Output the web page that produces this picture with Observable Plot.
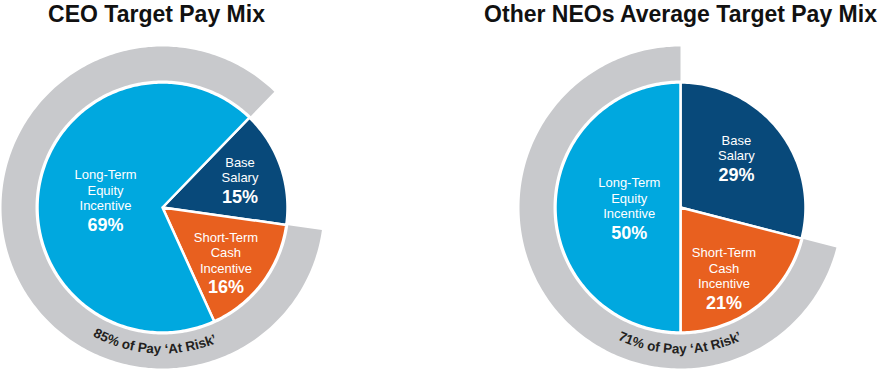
<!DOCTYPE html>
<html>
<head>
<meta charset="utf-8">
<script src="https://cdn.jsdelivr.net/npm/d3@7"></script>
<script src="https://cdn.jsdelivr.net/npm/@observablehq/plot@0.6"></script>
<style>
  html, body { margin: 0; padding: 0; background: #ffffff; }
  #chart { width: 884px; height: 370px; }
</style>
</head>
<body>
<div id="chart"></div>
<script>
// ---- data ----
const categories = ["Base Salary", "Short-Term Cash Incentive", "Long-Term Equity Incentive"];
const categoryLines = [["Base", "Salary"], ["Short-Term", "Cash", "Incentive"], ["Long-Term", "Equity", "Incentive"]];
const ceoValues = [15, 16, 69];
const neoValues = [29, 21, 50];
const titles = ["CEO Target Pay Mix", "Other NEOs Average Target Pay Mix"];
const atRiskLabels = ["85% of Pay \u2018At Risk\u2019", "71% of Pay \u2018At Risk\u2019"];
const atRiskCategories = ["Short-Term Cash Incentive", "Long-Term Equity Incentive"];

// ---- style / layout ----
const W = 884, H = 370;
const colors = ["#08497a", "#e8601f", "#00a8df"];
const ringColor = "#c8c9cc";
const R = 125, ringIn = 127, ringOut = 161, textR = 146.5;
const font = "'Liberation Sans', Arial, Helvetica, sans-serif";
const charts = [
  {title: titles[0], values: ceoValues, riskLabel: atRiskLabels[0], cx: 162, cy: 207, start: 44, titleX: 156,
   labelPos: [{r: 0.66, da: -1}, {r: 0.67, da: 4}, {r: 0.46, da: -2}], textAngle: 183},
  {title: titles[1], values: neoValues, riskLabel: atRiskLabels[1], cx: 680, cy: 207, start: 0, titleX: 680,
   labelPos: [{r: 0.60, da: -4}, {r: 0.66, da: 6}, {r: 0.41, da: 0}], textAngle: 180}
];

const rad = a => a * Math.PI / 180;
const pt = (cx, cy, r, a) => ({x: cx + r * Math.sin(rad(a)), y: cy - r * Math.cos(rad(a))});
function arcPts(cx, cy, r, a0, a1) {
  const n = Math.max(2, Math.ceil(Math.abs(a1 - a0)));
  const out = [];
  for (let i = 0; i <= n; i++) out.push(pt(cx, cy, r, a0 + (a1 - a0) * i / n));
  return out;
}

const marks = [];
const nameLabels = [], pctLabels = [];
const L = 15.5, G = 19.5;

charts.forEach((c, ci) => {
  const total = d3.sum(c.values);
  // angles of each slice (clockwise from 12 o'clock, degrees)
  let cum = 0;
  const slices = c.values.map((v, i) => {
    const a0 = c.start + cum / total * 360;
    cum += v;
    const a1 = c.start + cum / total * 360;
    return {cat: categories[i], value: v, a0, a1, i};
  });
  // at-risk ring
  const risk = slices.filter(s => atRiskCategories.includes(s.cat));
  const r0 = d3.min(risk, s => s.a0), r1 = d3.max(risk, s => s.a1);
  const ringPts = arcPts(c.cx, c.cy, ringOut, r0, r1).concat(arcPts(c.cx, c.cy, ringIn, r1, r0));
  ringPts.push(ringPts[0]);
  marks.push(Plot.line(ringPts, {x: "x", y: "y", fill: ringColor, stroke: "none"}));
  // slices
  slices.forEach(s => {
    const p = [{x: c.cx, y: c.cy}].concat(arcPts(c.cx, c.cy, R, s.a0, s.a1), [{x: c.cx, y: c.cy}]);
    marks.push(Plot.line(p, {x: "x", y: "y", fill: colors[s.i], stroke: "white", strokeWidth: 2.5, strokeLinejoin: "round"}));
    const lp = c.labelPos[s.i];
    const ctr = pt(c.cx, c.cy, R * lp.r, (s.a0 + s.a1) / 2 + lp.da);
    const n = categoryLines[s.i].length;
    nameLabels.push({x: ctr.x, y: ctr.y - G / 2, text: categoryLines[s.i].join("\n")});
    pctLabels.push({x: ctr.x, y: ctr.y + ((n - 1) * L + G) / 2, text: s.value + "%"});
  });
  // title
  marks.push(Plot.text([c.title], {x: () => c.titleX, y: () => 14.5, text: d => d, fontSize: 23, fontWeight: "bold", fill: "#111111", fontFamily: font, lineAnchor: "middle"}));
  // curved at-risk text
  marks.push((index, scales) => {
    const X = scales && scales.x ? scales.x : (v => v);
    const Y = scales && scales.y ? scales.y : (v => v);
    const ns = "http://www.w3.org/2000/svg";
    const g = document.createElementNS(ns, "g");
    const cx = X(c.cx), cy = Y(c.cy), r = X(c.cx + textR) - X(c.cx);
    const path = document.createElementNS(ns, "path");
    const id = "riskpath" + ci;
    path.setAttribute("id", id);
    path.setAttribute("fill", "none");
    path.setAttribute("d", `M${cx - r},${cy} A${r},${r} 0 0 0 ${cx + r},${cy}`);
    g.appendChild(path);
    const t = document.createElementNS(ns, "text");
    t.setAttribute("font-family", font);
    t.setAttribute("font-size", "13.5");
    t.setAttribute("font-weight", "bold");
    t.setAttribute("fill", "#231f20");
    t.setAttribute("text-anchor", "middle");
    const tp = document.createElementNS(ns, "textPath");
    tp.setAttribute("href", "#" + id);
    tp.setAttributeNS("http://www.w3.org/1999/xlink", "xlink:href", "#" + id);
    tp.setAttribute("startOffset", ((270 - c.textAngle) / 180 * 100) + "%");
    tp.textContent = c.riskLabel;
    t.appendChild(tp);
    g.appendChild(t);
    return g;
  });
});

marks.push(Plot.text(nameLabels, {x: "x", y: "y", text: "text", fill: "white", fontSize: 13, lineHeight: L / 13, lineAnchor: "middle", fontFamily: font}));
marks.push(Plot.text(pctLabels, {x: "x", y: "y", text: "text", fill: "white", fontSize: 18, fontWeight: "bold", lineAnchor: "middle", fontFamily: font}));

const plot = Plot.plot({
  width: W,
  height: H,
  margin: 0,
  x: {domain: [0, W], range: [0, W], axis: null},
  y: {domain: [0, H], range: [0, H], axis: null},
  style: {background: "white", fontFamily: font},
  marks
});
document.getElementById("chart").appendChild(plot);
</script>
</body>
</html>
